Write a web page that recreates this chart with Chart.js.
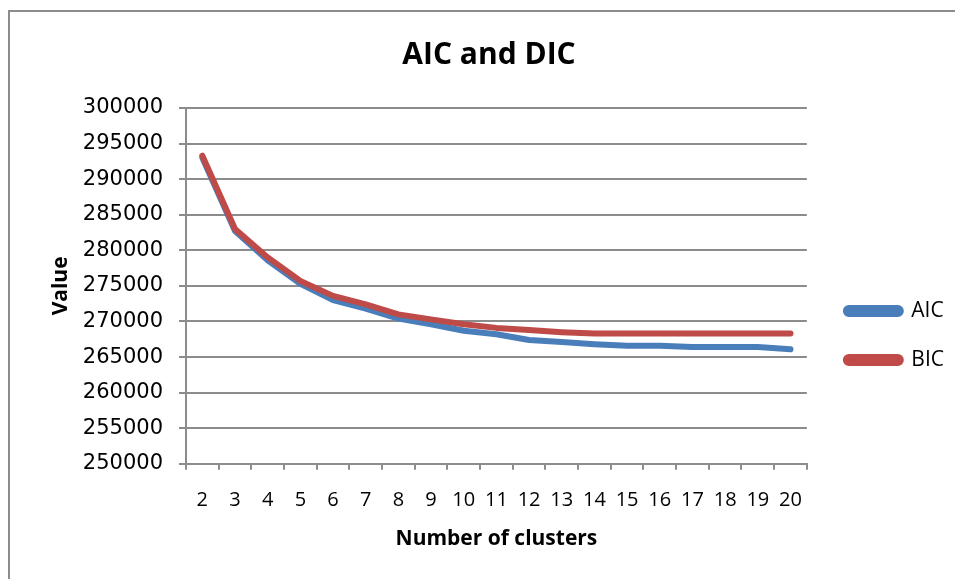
<!DOCTYPE html>
<html>
<head>
<meta charset="utf-8">
<script src="https://cdn.jsdelivr.net/npm/chart.js@4"></script>
<style>
  html, body { margin: 0; padding: 0; background: #fff; overflow: hidden; width: 955px; height: 579px; }
  #frame { position: absolute; left: 8px; top: 10px; width: 1200px; height: 1000px;
           border-left: 2px solid #8c8c8c; border-top: 2px solid #8c8c8c; }
  #myChart { position: absolute; left: 9px; top: 11px; }
</style>
</head>
<body>
<div id="frame"></div>
<canvas id="myChart" width="960" height="568"></canvas>
<script>
const ctx = document.getElementById("myChart");

// x축 카테고리 (클러스터 수)
var clusters = ["2", "3", "4", "5", "6", "7", "8", "9", "10", "11", "12", "13", "14", "15", "16", "17", "18", "19", "20"];
// 그림에서 읽은 값
var aicValues = [293000, 282700, 278600, 275300, 273000, 271800, 270400, 269600, 268700, 268200,
                 267400, 267100, 266800, 266600, 266600, 266400, 266400, 266400, 266100];
var bicValues = [293300, 283000, 279000, 275700, 273600, 272400, 271000, 270300, 269600, 269100,
                 268800, 268500, 268300, 268300, 268300, 268300, 268300, 268300, 268300];
// y축 범위
var yMin = 250000;
var yMax = 300000;
var yStep = 5000;

var gridGray = "#8c8c8c";

new Chart(ctx, {
  type: "line",
  data: {
    labels: clusters,
    datasets: [
      {
        label: "AIC",
        data: aicValues,
        borderColor: "#4a7ebb",
        backgroundColor: "#4a7ebb",
        borderWidth: 6,
        pointRadius: 0,
        borderCapStyle: "round",
        borderJoinStyle: "round",
        order: 1,
      },
      {
        label: "BIC",
        data: bicValues,
        borderColor: "#be4b48",
        backgroundColor: "#be4b48",
        borderWidth: 6,
        pointRadius: 0,
        borderCapStyle: "round",
        borderJoinStyle: "round",
        order: 0, // 빨간 선이 위에
      },
    ],
  },
  options: {
    responsive: false,
    animation: false,
    layout: { padding: { left: 15, right: 15, top: 0, bottom: 0 } },
    plugins: {
      title: {
        display: true,
        text: "AIC and DIC",
        color: "#000",
        font: { family: "'Open Sans'", size: 30, weight: "bold" },
        padding: { top: 26, bottom: 35 },
      },
      legend: {
        position: "right",
        align: "center",
        title: { display: true, text: " ", font: { size: 10 }, padding: { top: 69, bottom: 0 } },
        labels: {
          sort: (a, b) => a.datasetIndex - b.datasetIndex,
          boxWidth: 55,
          boxHeight: 6,
          useBorderRadius: true,
          borderRadius: 3,
          padding: 28,
          color: "#000",
          font: { family: "'Open Sans'", size: 21 },
        },
      },
      tooltip: { enabled: false },
    },
    scales: {
      x: {
        offset: true,
        grid: { offset: true, drawOnChartArea: false, drawTicks: true, tickLength: 6, color: gridGray, lineWidth: 2 },
        border: { display: true, color: gridGray, width: 2 },
        ticks: { color: "#000", padding: 18, maxRotation: 0, autoSkip: false, font: { family: "'Open Sans'", size: 20 } },
        title: {
          display: true,
          text: "Number of clusters",
          color: "#000",
          font: { family: "'Open Sans'", size: 21, weight: "bold" },
          padding: { top: -3, bottom: 27 },
        },
      },
      y: {
        min: yMin,
        max: yMax,
        ticks: {
          stepSize: yStep,
          color: "#000",
          padding: 16,
          font: { family: "'DejaVu Sans'", size: 21 },
          callback: function (value) { return String(value); },
        },
        grid: { color: gridGray, lineWidth: 2, tickLength: 7 },
        border: { display: true, color: gridGray, width: 2 },
        title: {
          display: true,
          text: "Value",
          color: "#000",
          font: { family: "'Open Sans'", size: 21, weight: "bold" },
          padding: { top: 24, bottom: 0 },
        },
        afterFit: function (scale) { scale.width = 162; },
      },
      // 범례 앞 여백용 빈 축
      gap: {
        type: "linear",
        position: "right",
        display: true,
        grid: { display: false },
        border: { display: false },
        ticks: { display: false },
        afterFit: function (scale) { scale.width = 11; },
      },
    },
  },
});
</script>
</body>
</html>
